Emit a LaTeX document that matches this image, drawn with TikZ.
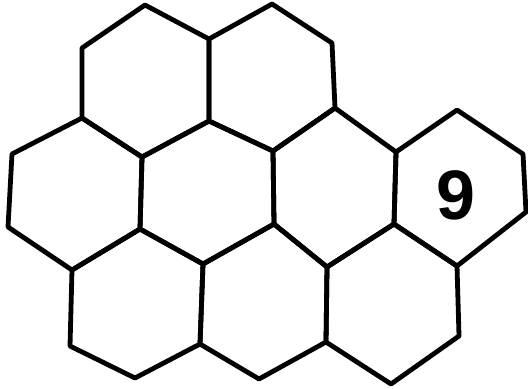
\documentclass[tikz,border=0pt]{standalone}
\usepackage{fontspec}
\newfontfamily\digitfont{Liberation Sans}
\usetikzlibrary{positioning}

\tikzset{cell/.style={line width=2.4pt,line join=round,line cap=round}}

\begin{document}
\begin{tikzpicture}[x=0.5pt,y=-0.5pt]
\useasboundingbox (0,0) rectangle (528,388);
% vertices, top row
\coordinate (a1) at (145,5);
\coordinate (a2) at (209,39);
\coordinate (a3) at (82,48);
\coordinate (b1) at (272,4);
\coordinate (b2) at (332,43);
\coordinate (b3) at (335,108);
\coordinate (c) at (209,121);
\coordinate (d) at (82,118);
% middle row
\coordinate (e) at (142,157);
\coordinate (f) at (273,151);
\coordinate (g) at (12,154);
\coordinate (h) at (396,152);
\coordinate (i) at (457,110);
\coordinate (j) at (523,154);
\coordinate (k) at (8,227);
\coordinate (l) at (140,229);
\coordinate (m) at (274,224);
\coordinate (n) at (394,224);
\coordinate (o) at (526,212);
% bottom row
\coordinate (p) at (72,270);
\coordinate (q) at (203,264);
\coordinate (r) at (327,267);
\coordinate (s) at (457,266);
\coordinate (t) at (70,346);
\coordinate (u) at (200,344);
\coordinate (v) at (326,342);
\coordinate (w) at (459,336);
\coordinate (x) at (135,378);
\coordinate (y) at (259,379);
\coordinate (z) at (391,384);

\draw[cell] (a1)--(a2)--(c)--(e)--(d)--(a3)--cycle;
\draw[cell] (b1)--(b2)--(b3)--(f)--(c)--(a2)--cycle;
\draw[cell] (d)--(e)--(l)--(p)--(k)--(g)--cycle;
\draw[cell] (c)--(f)--(m)--(q)--(l)--(e)--cycle;
\draw[cell] (b3)--(h)--(n)--(r)--(m)--(f)--cycle;
\draw[cell] (i)--(j)--(o)--(s)--(n)--(h)--cycle;
\draw[cell] (l)--(q)--(u)--(x)--(t)--(p)--cycle;
\draw[cell] (m)--(r)--(v)--(y)--(u)--(q)--cycle;
\draw[cell] (n)--(s)--(w)--(z)--(v)--(r)--cycle;

\node (nine) at (456,195) {\digitfont\bfseries\fontsize{35}{35}\selectfont 9};
\end{tikzpicture}
\end{document}
